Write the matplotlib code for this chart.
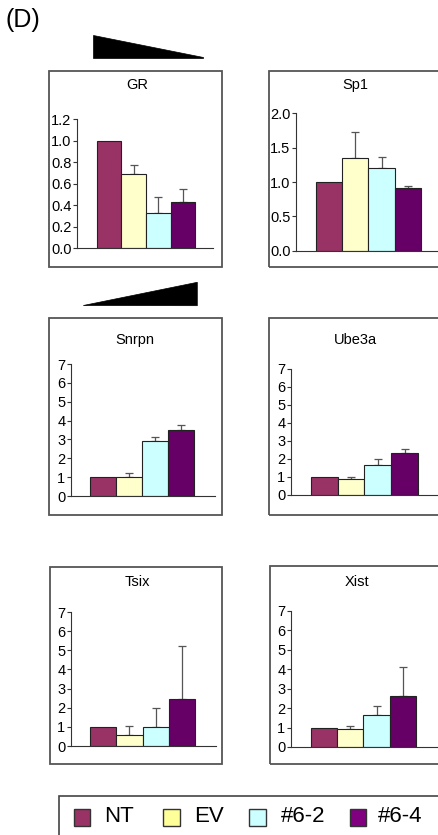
import matplotlib
matplotlib.use('Agg')
import matplotlib.pyplot as plt
from matplotlib.patches import Rectangle, Polygon
from matplotlib.ticker import FormatStrFormatter

plt.rcParams['font.family'] = ['Liberation Sans', 'DejaVu Sans']

W, H = 439, 835

groups = ['NT', 'EV', '#6-2', '#6-4']
bar_colors = ['#993366', '#FFFFCC', '#CCFFFF', '#660066']
legend_colors = ['#993366', '#FFFF99', '#CCFFFF', '#800080']

genes = ['GR', 'Sp1', 'Snrpn', 'Ube3a', 'Tsix', 'Xist']
gr_vals = [1.0, 0.69, 0.325, 0.43]
gr_err = [0.0, 0.08, 0.15, 0.12]
sp1_vals = [1.0, 1.345, 1.20, 0.91]
sp1_err = [0.0, 0.385, 0.17, 0.03]
snrpn_vals = [1.0, 1.03, 2.9, 3.52]
snrpn_err = [0.0, 0.21, 0.23, 0.26]
ube3a_vals = [1.0, 0.87, 1.65, 2.36]
ube3a_err = [0.0, 0.15, 0.37, 0.22]
tsix_vals = [1.0, 0.57, 1.0, 2.48]
tsix_err = [0.0, 0.5, 1.01, 2.72]
xist_vals = [1.0, 0.93, 1.65, 2.63]
xist_err = [0.0, 0.17, 0.48, 1.5]

values = [gr_vals, sp1_vals, snrpn_vals, ube3a_vals, tsix_vals, xist_vals]
errors = [gr_err, sp1_err, snrpn_err, ube3a_err, tsix_err, xist_err]
yticks = [[0, 0.2, 0.4, 0.6, 0.8, 1.0, 1.2],
          [0, 0.5, 1.0, 1.5, 2.0],
          list(range(8)), list(range(8)), list(range(8)), list(range(8))]
yfmt = ['%.1f', '%.1f', '%d', '%d', '%d', '%d']

# layout in pixels: axis left, axis right, y top (at ymax), y bottom (at 0), first bar left, bar width
layout = [
    (77, 213, 119, 248, 97, 24.5),
    (296, 450, 113.3, 250.7, 316, 26.25),
    (71, 215, 364, 496, 90, 26),
    (291, 450, 369, 495, 311, 26.75),
    (71, 216, 612, 746, 90, 26.25),
    (291, 450, 611, 747, 311, 26.25),
]
boxes = [(49, 70.7, 222, 267), (269, 70.7, 470, 267),
         (49, 317.5, 222, 515), (269, 317.5, 470, 515),
         (50, 567, 222.5, 764), (270, 566, 470, 764)]
title_pos = [(137, 85), (355, 85), (135, 340), (355, 340), (137, 582), (357, 582)]


def fx(x):
    return x / W


def fy(y):
    return 1 - y / H


fig = plt.figure(figsize=(W / 100, H / 100), dpi=100)

for i, gene in enumerate(genes):
    x0, y0, x1, y1 = boxes[i]
    fig.add_artist(Rectangle((fx(x0), fy(y1)), fx(x1 - x0), (y1 - y0) / H,
                             transform=fig.transFigure, fill=False,
                             edgecolor='#555555', lw=1.3))
    tx, ty = title_pos[i]
    fig.text(fx(tx), fy(ty), gene, ha='center', va='center', fontsize=10.5)

    L, R, T, B, b0, w = layout[i]
    ax = fig.add_axes([fx(L), fy(B), fx(R - L), (B - T) / H])
    ymax = yticks[i][-1]
    ax.set_ylim(0, ymax)
    # bars at 0..3 with width 1, xlim from pixel positions
    left = -0.5 - (b0 - L) / w
    right = left + (R - L) / w
    ax.set_xlim(left, right)
    xs = range(len(groups))
    ax.bar(xs, values[i], width=1.0, color=bar_colors, edgecolor='#222222',
           linewidth=0.8, zorder=2)
    err = errors[i]
    ax.errorbar([x for x, e in zip(xs, err) if e > 0],
                [v for v, e in zip(values[i], err) if e > 0],
                yerr=[[0] * sum(e > 0 for e in err), [e for e in err if e > 0]],
                fmt='none', ecolor='#555555', elinewidth=0.9, capsize=3,
                capthick=0.9, zorder=1)
    for s in ['top', 'right']:
        ax.spines[s].set_visible(False)
    for s in ['left', 'bottom']:
        ax.spines[s].set_color('#333333')
        ax.spines[s].set_linewidth(0.8)
    ax.set_xticks([])
    ax.set_yticks(yticks[i])
    ax.yaxis.set_major_formatter(FormatStrFormatter(yfmt[i]))
    ax.tick_params(axis='y', length=3, width=0.8, pad=1, labelsize=10.5,
                   color='#333333')
    ax.patch.set_visible(False)

# wedges
fig.add_artist(Polygon([(fx(93.3), fy(35)), (fx(93.3), fy(57.7)),
                        (fx(203.3), fy(57.7)), (fx(203.3), fy(56.5))],
                       closed=True, transform=fig.transFigure,
                       facecolor='black', edgecolor='black', lw=0.5))
fig.add_artist(Polygon([(fx(83.3), fy(305.5)), (fx(197.3), fy(305.7)),
                        (fx(197.3), fy(282.3))],
                       closed=True, transform=fig.transFigure,
                       facecolor='black', edgecolor='black', lw=0.5))

fig.text(fx(6), fy(20), '(D)', ha='left', va='center', fontsize=18)

# legend box
fig.add_artist(Rectangle((fx(59), fy(845)), fx(400), 49 / H,
                         transform=fig.transFigure, fill=False,
                         edgecolor='#444444', lw=1.2))
sq_x = [74, 163, 249, 350]
txt_x = [104, 194, 281, 378]
for j, g in enumerate(groups):
    fig.add_artist(Rectangle((fx(sq_x[j]), fy(825.5)), fx(16.5), 16.5 / H,
                             transform=fig.transFigure,
                             facecolor=legend_colors[j], edgecolor='#333333',
                             lw=1.0))
    fig.text(fx(txt_x[j]), fy(817), g, ha='left', va='center', fontsize=16)

fig.savefig('out.png', dpi=100)
